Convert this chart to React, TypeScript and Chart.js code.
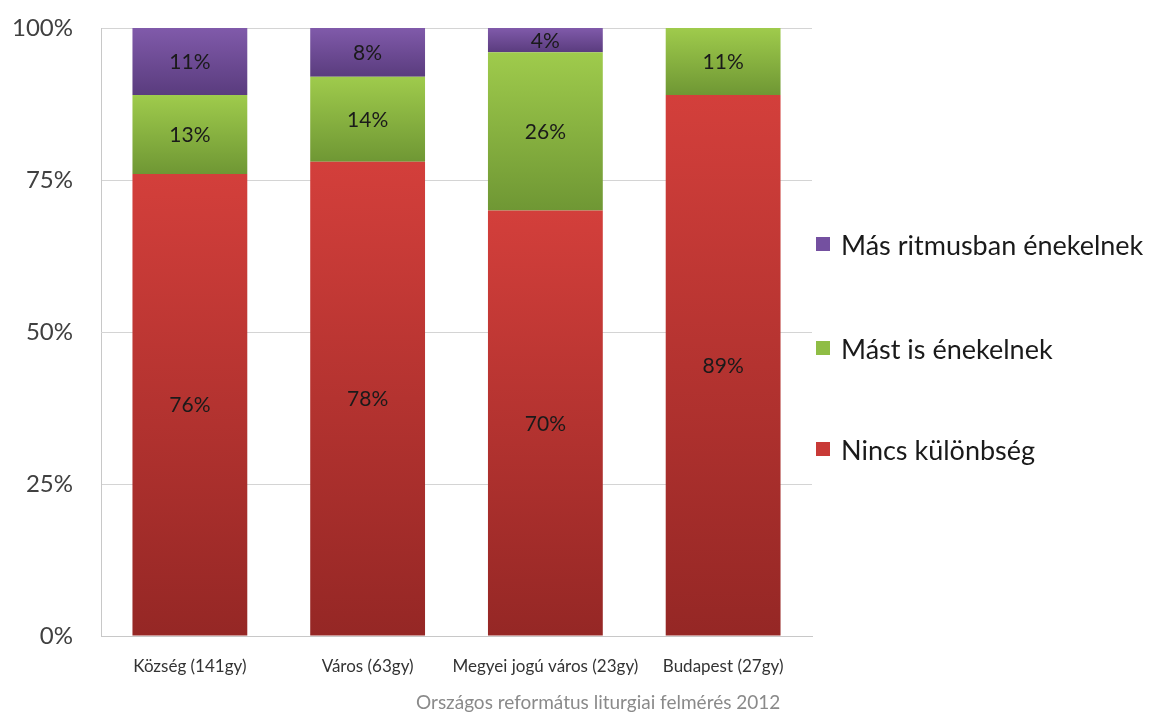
import React, { useEffect, useRef } from "react";
import { Chart, registerables } from "chart.js";

Chart.register(...registerables);

const categories = ["Község (141gy)", "Város (63gy)", "Megyei jogú város (23gy)", "Budapest (27gy)"];
const seriesNames = ["Nincs különbség", "Mást is énekelnek", "Más ritmusban énekelnek"];
const nincs = [76, 78, 70, 89];
const mast = [13, 14, 26, 11];
const ritmus = [11, 8, 4, 0];
const yTicks = [0, 25, 50, 75, 100];
const footer = "Országos református liturgiai felmérés 2012";

const FONT = "Lato, 'Open Sans', sans-serif";
const gradients = [
  ["#d33f3b", "#952725"],
  ["#9fcb4c", "#6f9734"],
  ["#805aaa", "#5a3c7e"],
];
const legendColors = ["#c83a37", "#8fbd45", "#7450a0"];

export default function App() {
  const ref = useRef<HTMLCanvasElement>(null);
  useEffect(() => {
    const all = [nincs, mast, ritmus];
    const valueLabels = {
      id: "valueLabels",
      afterDatasetsDraw(chart: any) {
        const ctx = chart.ctx;
        ctx.save();
        ctx.font = `21px ${FONT}`;
        ctx.fillStyle = "#1a1a1a";
        ctx.textAlign = "center";
        ctx.textBaseline = "middle";
        chart.data.datasets.forEach((ds: any, di: number) => {
          const meta = chart.getDatasetMeta(di);
          meta.data.forEach((bar: any, i: number) => {
            const v = ds.data[i];
            if (!v) return;
            const top = Math.min(bar.y, bar.base);
            const bot = Math.max(bar.y, bar.base);
            ctx.fillText(v + "%", bar.x, (top + bot) / 2 + 1);
          });
        });
        ctx.restore();
      },
    };
    const bg = (di: number) => (c: any) => {
      const chart = c.chart;
      const y = chart.scales?.y;
      if (!y || c.dataIndex === undefined) return gradients[di][0];
      let base = 0;
      for (let k = 0; k < di; k++) base += all[k][c.dataIndex];
      const top = base + all[di][c.dataIndex];
      const y0 = y.getPixelForValue(top);
      const y1 = y.getPixelForValue(base);
      if (!isFinite(y0) || !isFinite(y1) || y0 === y1) return gradients[di][0];
      const g = chart.ctx.createLinearGradient(0, y0, 0, y1);
      g.addColorStop(0, gradients[di][0]);
      g.addColorStop(1, gradients[di][1]);
      return g;
    };
    const chart = new Chart(ref.current!, {
      type: "bar",
      data: {
        labels: categories,
        datasets: all.map((d, di) => ({
          label: seriesNames[di],
          data: d,
          backgroundColor: bg(di),
          borderWidth: 0,
          categoryPercentage: 0.646,
          barPercentage: 1,
        })),
      },
      options: {
        animation: false,
        responsive: false,
        maintainAspectRatio: false,
        layout: { padding: { top: 28, right: 340, left: 0, bottom: 0 } },
        plugins: { legend: { display: false }, tooltip: { enabled: false } },
        scales: {
          x: {
            stacked: true,
            grid: { display: false },
            border: { display: true, color: "#c8c8c8" },
            ticks: { font: { family: FONT, size: 17 }, color: "#333333", padding: 12, maxRotation: 0, autoSkip: false },
            afterFit: (s: any) => { s.height = 77; },
          },
          y: {
            stacked: true,
            min: 0,
            max: 100,
            afterBuildTicks: (s: any) => { s.ticks = yTicks.map((v) => ({ value: v })); },
            grid: { color: "#d4d4d4", drawTicks: true, tickLength: 28, tickColor: "rgba(0,0,0,0)", lineWidth: 1 },
            border: { display: true, color: "#c8c8c8" },
            ticks: {
              font: { family: FONT, size: 24 },
              color: "#404040",
              padding: 0,
              callback: (v: any) => v + "%",
            },
            afterFit: (s: any) => { s.width = 101; },
          },
        },
      },
      plugins: [valueLabels],
    });
    return () => chart.destroy();
  }, []);

  const legendItems = [2, 1, 0];
  const legendY = [244, 348, 449];
  return (
    <div style={{ position: "absolute", left: 0, top: 0, width: 1152, height: 713, background: "#fff", fontFamily: FONT }}>
      <canvas ref={ref} width={1152} height={713} style={{ position: "absolute", left: 0, top: 0 }} />
      {legendItems.map((si, k) => (
        <div key={si} style={{ position: "absolute", left: 816, top: legendY[k] - 18, height: 36, display: "flex", alignItems: "center", whiteSpace: "nowrap" }}>
          <span style={{ display: "inline-block", width: 14, height: 14, background: legendColors[si], marginRight: 11 }} />
          <span style={{ fontSize: 27, color: "#1a1a1a" }}>{seriesNames[si]}</span>
        </div>
      ))}
      <div style={{ position: "absolute", left: 416, top: 690, fontSize: 19, color: "#8a8a8a", whiteSpace: "nowrap" }}>{footer}</div>
    </div>
  );
}
